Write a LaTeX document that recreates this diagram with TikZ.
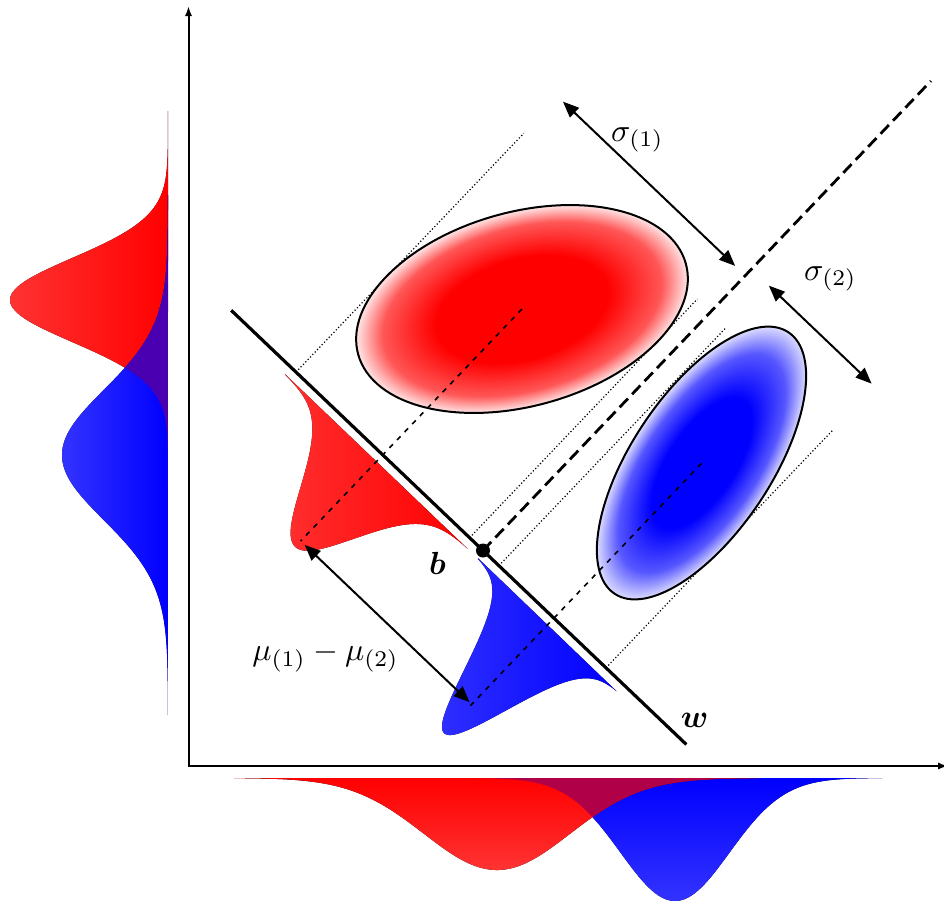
\documentclass[tikz,border=0pt]{standalone}
\usepackage{bm}
\usetikzlibrary{arrows.meta}
\definecolor{ovleft}{RGB}{74,0,176}
\definecolor{ovbot}{RGB}{176,0,72}
\pgfdeclareradialshading{redball}{\pgfpoint{0bp}{0bp}}{color(0bp)=(red); color(13bp)=(red); color(21bp)=(red!66!white); color(25bp)=(red!10!white); color(50bp)=(white)}
\pgfdeclareradialshading{blueball}{\pgfpoint{0bp}{0bp}}{color(0bp)=(blue); color(12bp)=(blue); color(20bp)=(blue!66!white); color(25bp)=(blue!14!white); color(50bp)=(white)}
\begin{document}
\begin{tikzpicture}[x=0.5pt,y=-0.5pt,
  declare function={gs(\t,\m,\s)=exp(-0.5*((\t-\m)/\s)*((\t-\m)/\s));},
  axisline/.style={line width=1pt},
  tline/.style={line width=0.6pt, dash pattern=on 0.6pt off 1.1pt},
  cline/.style={line width=0.8pt, dash pattern=on 2.5pt off 3pt},
  mline/.style={line width=1pt, {Triangle[length=8pt,width=6.5pt]}-{Triangle[length=8pt,width=6.5pt]}},
  lbl/.style={scale=1.6, inner sep=0pt}]
\useasboundingbox (0,0) rectangle (944,901);

% left marginals
\fill[left color=red!80!white, right color=red] (168,111) -- plot[domain=111:489,samples=160,smooth] ({168-158*gs(\x,300,42)},\x) -- cycle;
\fill[left color=blue!80!white, right color=blue] (168,195) -- plot[domain=195:715,samples=160,smooth] ({168-106*gs(\x,455,65)},\x) -- cycle;
\fill[ovleft] (168,195) -- plot[domain=195:489,samples=160,smooth] ({168-min(158*gs(\x,300,42),106*gs(\x,455,65))},\x) -- cycle;

% bottom marginals
\fill[top color=blue, bottom color=blue!80!white] (468,778) -- plot[domain=468:882,samples=160,smooth] (\x,{778+123*gs(\x,675,54.5)}) -- cycle;
\fill[top color=red, bottom color=red!80!white] (234,778) -- plot[domain=234:760,samples=160,smooth] (\x,{778+92*gs(\x,497,73)}) -- cycle;
\fill[ovbot] (468,778) -- plot[domain=468:760,samples=160,smooth] (\x,{778+min(92*gs(\x,497,73),123*gs(\x,675,54.5))}) -- cycle;

% axes
\coordinate (ytop) at (188.5,6);
\coordinate (xend) at (948,766);
\draw[axisline, {Latex[length=5pt,width=3.6pt]}-{Latex[length=5pt,width=3.6pt]}] (ytop) |- (xend);

% frame along w
\begin{scope}[shift={(483,550.5)}, rotate=-43.65]
  \coordinate (o) at (0,0);
  \coordinate (w1) at (-348,0);
  \coordinate (w2) at (281,0);
  \coordinate (ra) at (-258.5,0);  \coordinate (rA) at (-258.5,-330);
  \coordinate (rb) at (-18.5,0);   \coordinate (rB) at (-18.5,-330);
  \coordinate (ba) at (22,0);      \coordinate (bA) at (22,-328);
  \coordinate (bb) at (170,0);     \coordinate (bB) at (170,-328);
  \coordinate (rc) at (-138.5,-201.7); \coordinate (rm) at (-138.5,119);
  \coordinate (bc) at (98,-214);   \coordinate (bm) at (98,121);
  \coordinate (dtop) at (0,-649);
  \coordinate (s1a) at (-252,-380); \coordinate (s1b) at (-14,-380);
  \coordinate (s2a) at (24,-389);   \coordinate (s2b) at (166,-389);
  \coordinate (m1) at (-133,119);   \coordinate (m2) at (95,119);
  \draw[tline] (ra) -- (rA);
  \draw[tline] (rb) -- (rB);
  \draw[tline] (ba) -- (bA);
  \draw[tline] (bb) -- (bB);
\end{scope}

% ellipses
\begin{scope}[transform canvas={shift={(522,309)}, rotate=15.5}]
  \shadedraw[shading=redball, line width=1pt] (0,0) ellipse[x radius=170, y radius=97];
\end{scope}
\begin{scope}[transform canvas={shift={(701.5,463)}, rotate=56.4}]
  \shadedraw[shading=blueball, line width=1pt] (0,0) ellipse[x radius=157, y radius=70];
\end{scope}

\begin{scope}[shift={(483,550.5)}, rotate=-43.65]
  \fill[left color=red!82!white, right color=red] (-264.5,9) -- plot[domain=-264.5:-12.5,samples=150,smooth] (\x,{9+118*gs(\x,-138.5,37)}) -- cycle;
  \fill[left color=blue!82!white, right color=blue] (2,9) -- plot[domain=2:194,samples=150,smooth] (\x,{9+150*gs(\x,98,29)}) -- cycle;
\end{scope}

\draw[cline] (rc) -- (rm);
\draw[cline] (bc) -- (bm);
\draw[line width=1.6pt] (w1) -- (w2);
\draw[line width=1.4pt, dash pattern=on 6pt off 3pt] (o) -- (dtop);
\node[circle, fill=black, inner sep=0pt, minimum size=7pt] (b) at (o) {};
\draw[mline] (s1a) -- (s1b);
\draw[mline] (s2a) -- (s2b);
\draw[mline] (m1) -- (m2);

% labels
\node[lbl] (lb) at (437.5,563.5) {$\bm{b}$};
\node[lbl] (lw) at (694.5,720.5) {$\bm{w}$};
\node[lbl] (ls1) at (637.5,140) {$\sigma_{(1)}$};
\node[lbl] (ls2) at (830.5,279) {$\sigma_{(2)}$};
\node[lbl] (lmu) at (325.5,657) {$\mu_{(1)}-\mu_{(2)}$};
\end{tikzpicture}
\end{document}
